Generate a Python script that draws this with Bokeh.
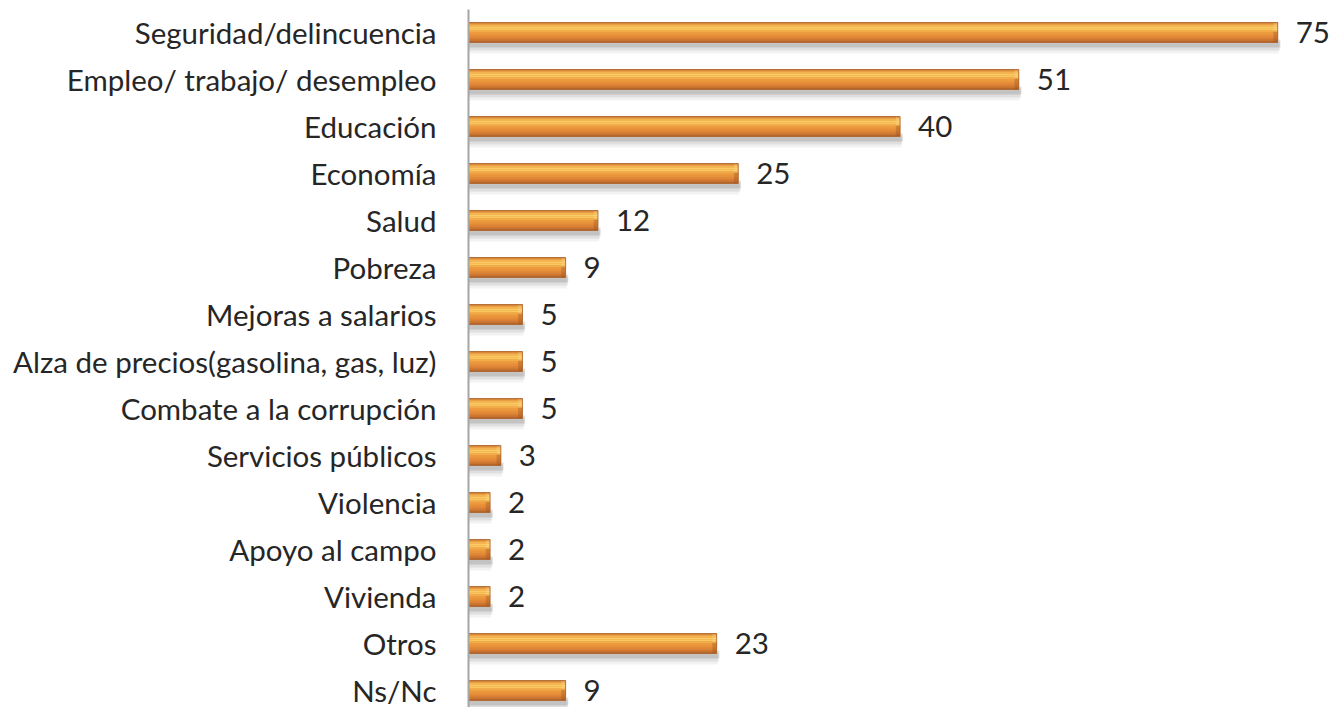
from bokeh.plotting import figure
from bokeh.models import Range1d, FixedTicker
from bokeh.core.properties import value
from bokeh.embed import file_html
from bokeh.resources import INLINE

categories = ["Seguridad/delincuencia", "Empleo/ trabajo/ desempleo", "Educación", "Economía",
              "Salud", "Pobreza", "Mejoras a salarios", "Alza de precios(gasolina, gas, luz)",
              "Combate a la corrupción", "Servicios públicos", "Violencia", "Apoyo al campo",
              "Vivienda", "Otros", "Ns/Nc"]
values = [75, 51, 40, 25, 12, 9, 5, 5, 5, 3, 2, 2, 2, 23, 9]
idx = list(range(len(categories)))

FONT = "Lato"
FS = "29.5px"

p = figure(width=1342, height=707, output_backend="svg", toolbar_location=None,
           x_range=Range1d(0, 80.26), y_range=Range1d(14.36, -0.49),
           min_border_left=468, min_border_right=8, min_border_top=9, min_border_bottom=0)
p.outline_line_color = None
p.xgrid.visible = False
p.ygrid.visible = False
p.xaxis.visible = False

ya = p.yaxis[0]
ya.ticker = FixedTicker(ticks=idx)
ya.major_label_overrides = {i: c for i, c in zip(idx, categories)}
ya.major_tick_line_color = None
ya.minor_tick_line_color = None
ya.axis_line_color = "#A6A6A6"
ya.axis_line_width = 2
ya.major_label_standoff = 26
ya.major_label_text_font = FONT
ya.major_label_text_font_size = FS
ya.major_label_text_color = "#262626"

H = 0.426

def band(f0, f1, color, alpha=1.0, extra=0.0, left=None):
    ys = [i - H / 2 + H * (f0 + f1) / 2 for i in idx]
    lefts = 0 if left is None else [v - left for v in values]
    p.hbar(y=ys, left=lefts, right=[v + extra for v in values], height=H * (f1 - f0),
           fill_color=color, fill_alpha=alpha, line_color=None)

# soft shadow below bars
band(0.85, 1.25, "#000000", 0.12, extra=0.25)
band(0.95, 1.40, "#000000", 0.08, extra=0.2)
band(1.05, 1.55, "#000000", 0.05, extra=0.1)

# base bar
band(0.0, 1.0, "#E68A38")

# gradient layers (style)
layers = [(0.00, 0.10, "#D98A3A"), (0.10, 0.20, "#F3B450"), (0.20, 0.30, "#FACB62"),
          (0.30, 0.40, "#F9C85E"), (0.40, 0.50, "#F2AC48"), (0.50, 0.60, "#EC9C3F"),
          (0.60, 0.70, "#E8913B"), (0.70, 0.80, "#DE8537"), (0.80, 0.90, "#CF7832"),
          (0.90, 1.00, "#B5662C")]
for f0, f1, c in layers:
    band(f0, f1, c)

# bevel shading at the right end
band(0.45, 1.0, "#9A5020", 0.35, left=0.4)
band(0.0, 0.45, "#FFE9A0", 0.25, left=0.4)

# outline
p.hbar(y=idx, left=0, right=values, height=H, fill_color=None,
       line_color="#A8612C", line_width=1, line_alpha=0.8)

p.text(x=values, y=idx, text=[str(v) for v in values], x_offset=18,
       text_baseline="middle", text_align="left", text_font=value(FONT),
       text_font_size=FS, text_color="#262626")

open("out.html", "w").write(file_html(p, INLINE))
